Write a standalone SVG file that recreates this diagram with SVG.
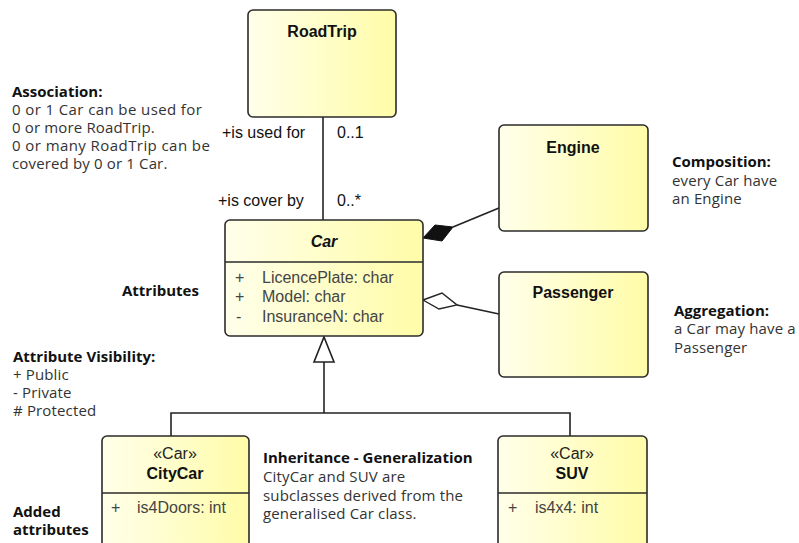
<svg xmlns="http://www.w3.org/2000/svg" width="799" height="543" viewBox="0 0 799 543">
  <defs>
    <linearGradient id="classFill" x1="0" y1="0" x2="1" y2="0">
      <stop offset="0" stop-color="#FFFFEA"/>
      <stop offset="1" stop-color="#FFFCA8"/>
    </linearGradient>
    <style>
      .box { fill: url(#classFill); stroke: #2b2b2b; stroke-width: 1.6; }
      .sep { stroke: #2b2b2b; stroke-width: 1.4; }
      .title { font-family: "Liberation Sans", Arial, sans-serif; font-size: 16px; font-weight: bold; fill: #111; text-anchor: middle; }
      .stereo { font-family: "Liberation Sans", Arial, sans-serif; font-size: 16px; fill: #222; text-anchor: middle; }
      .attr { font-family: "Liberation Sans", Arial, sans-serif; font-size: 16px; fill: #444; }
      .role { font-family: "Liberation Sans", Arial, sans-serif; font-size: 16px; fill: #111; }
      .note { font-family: "Open Sans", "Noto Sans", sans-serif; font-size: 15px; letter-spacing: 0.15px; fill: #333; }
      .noteb { font-family: "Open Sans", "Noto Sans", sans-serif; font-size: 15px; font-weight: bold; fill: #111; }
      .edge { fill: none; stroke: #222; stroke-width: 1.6; }
    </style>
  </defs>

  <rect width="799" height="543" fill="#ffffff"/>

  <!-- connectors -->
  <g id="connectors">
    <!-- association RoadTrip - Car -->
    <line class="edge" x1="323" y1="117" x2="323" y2="220"/>
    <!-- composition Car <>- Engine -->
    <line class="edge" x1="453" y1="227" x2="499" y2="208"/>
    <polygon points="423,238 435,225 453,227 442,241" fill="#111" stroke="#111" stroke-width="1"/>
    <!-- aggregation Car <>- Passenger -->
    <line class="edge" x1="457" y1="305" x2="499" y2="314"/>
    <polygon points="423,300 442,293 457,305 439,309" fill="#fff" stroke="#222" stroke-width="1.4"/>
    <!-- generalization CityCar, SUV -> Car -->
    <polyline class="edge" points="171,436 171,413 570,413 570,436"/>
    <line class="edge" x1="324" y1="413" x2="324" y2="362"/>
    <polygon points="324,337 334,362 314,362" fill="#fff" stroke="#222" stroke-width="1.6"/>
    <!-- role names and multiplicities -->
    <text class="role" x="222" y="138">+is used for</text>
    <text class="role" x="337" y="138">0..1</text>
    <text class="role" x="218" y="206">+is cover by</text>
    <text class="role" x="337" y="206">0..*</text>
  </g>

  <g id="RoadTrip">
    <rect class="box" x="248" y="10" width="148" height="107" rx="5"/>
    <text class="title" x="322" y="37">RoadTrip</text>
  </g>

  <g id="Car">
    <rect class="box" x="225" y="220" width="198" height="116" rx="5"/>
    <line class="sep" x1="225" y1="262" x2="423" y2="262"/>
    <text class="title" x="324" y="247" font-style="italic">Car</text>
    <text class="attr" x="235" y="283">+</text>
    <text class="attr" x="262" y="283">LicencePlate: char</text>
    <text class="attr" x="235" y="302">+</text>
    <text class="attr" x="262" y="302">Model: char</text>
    <text class="attr" x="236" y="322">-</text>
    <text class="attr" x="262" y="322">InsuranceN: char</text>
  </g>

  <g id="Engine">
    <rect class="box" x="499" y="125" width="149" height="106" rx="5"/>
    <text class="title" x="573" y="153">Engine</text>
  </g>

  <g id="Passenger">
    <rect class="box" x="499" y="272" width="149" height="105" rx="5"/>
    <text class="title" x="573" y="298">Passenger</text>
  </g>

  <g id="CityCar">
    <rect class="box" x="102" y="436" width="147" height="130" rx="5"/>
    <line class="sep" x1="102" y1="493" x2="249" y2="493"/>
    <text class="stereo" x="175" y="459">«Car»</text>
    <text class="title" x="175" y="479">CityCar</text>
    <text class="attr" x="111" y="513">+</text>
    <text class="attr" x="137" y="513">is4Doors: int</text>
  </g>

  <g id="SUV">
    <rect class="box" x="498" y="436" width="149" height="130" rx="5"/>
    <line class="sep" x1="498" y1="493" x2="647" y2="493"/>
    <text class="stereo" x="572" y="459">«Car»</text>
    <text class="title" x="572" y="479">SUV</text>
    <text class="attr" x="508" y="513">+</text>
    <text class="attr" x="535" y="513">is4x4: int</text>
  </g>

  <!-- explanatory notes -->
  <g id="note-association">
    <text class="noteb" x="12" y="97">Association:</text>
    <text class="note" x="12" y="115" textLength="190">0 or 1 Car can be used for</text>
    <text class="note" x="12" y="133">0 or more RoadTrip.</text>
    <text class="note" x="12" y="151" textLength="198">0 or many RoadTrip can be</text>
    <text class="note" x="12" y="169">covered by 0 or 1 Car.</text>
  </g>

  <g id="note-attributes">
    <text class="noteb" x="122" y="296">Attributes</text>
  </g>

  <g id="note-visibility">
    <text class="noteb" x="13" y="362">Attribute Visibility:</text>
    <text class="note" x="13" y="380">+ Public</text>
    <text class="note" x="13" y="398">- Private</text>
    <text class="note" x="13" y="416"># Protected</text>
  </g>

  <g id="note-composition">
    <text class="noteb" x="672" y="167">Composition:</text>
    <text class="note" x="672" y="186">every Car have</text>
    <text class="note" x="672" y="204">an Engine</text>
  </g>

  <g id="note-aggregation">
    <text class="noteb" x="674" y="316">Aggregation:</text>
    <text class="note" x="674" y="334">a Car may have a</text>
    <text class="note" x="674" y="353">Passenger</text>
  </g>

  <g id="note-inheritance">
    <text class="noteb" x="263" y="463">Inheritance - Generalization</text>
    <text class="note" x="263" y="482">CityCar and SUV are</text>
    <text class="note" x="263" y="501">subclasses derived from the</text>
    <text class="note" x="263" y="519">generalised Car class.</text>
  </g>

  <g id="note-added">
    <text class="noteb" x="13" y="517">Added</text>
    <text class="noteb" x="13" y="535">attributes</text>
  </g>
</svg>
